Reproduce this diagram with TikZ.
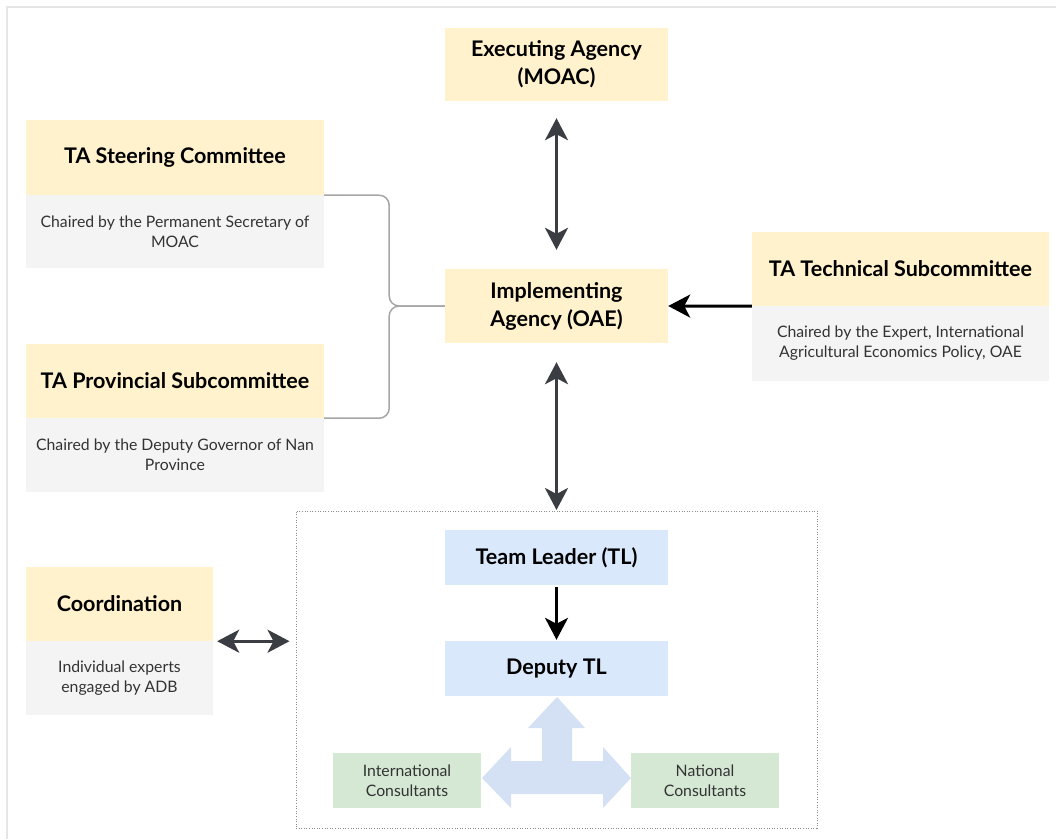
\documentclass[tikz,border=0pt]{standalone}
\usepackage{fontspec}
\setmainfont{Lato}
\usetikzlibrary{arrows.meta}
\definecolor{hdryellow}{HTML}{FFF2CC}
\definecolor{bodygray}{HTML}{F4F4F4}
\definecolor{tlblue}{HTML}{DAE8FC}
\definecolor{consgreen}{HTML}{D5E8D4}
\definecolor{blockblue}{HTML}{D4E1F5}
\definecolor{txtgray}{HTML}{333333}
\definecolor{arrowgray}{HTML}{3A3D42}
\definecolor{bracketgray}{HTML}{A6A6A6}
\definecolor{framegray}{HTML}{E6E6E6}
\definecolor{dotgray}{HTML}{8C8C8C}
\tikzset{
  hdr/.style={fill=hdryellow, draw=none, inner sep=0pt, align=center,
    font=\bfseries\fontsize{21.5}{28}\selectfont, text=black},
  bodybox/.style={fill=bodygray, draw=none, inner sep=0pt, align=center,
    font=\fontsize{15.8}{20}\selectfont, text=txtgray},
  bluebox/.style={fill=tlblue, draw=none, inner sep=0pt, align=center,
    minimum width=223pt, minimum height=55pt,
    font=\bfseries\fontsize{21.5}{28}\selectfont, text=black},
  greenbox/.style={fill=consgreen, draw=none, inner sep=0pt, align=center,
    minimum width=148pt, minimum height=55pt,
    font=\fontsize{15.8}{20.5}\selectfont, text=txtgray},
  dgarrow/.style={draw=arrowgray, line width=3pt,
    {Stealth[length=22pt,width=23pt,inset=6pt]}-{Stealth[length=22pt,width=23pt,inset=6pt]}},
  blkarrow/.style={draw=black, line width=3pt,
    -{Stealth[length=22pt,width=23pt,inset=6pt]}},
  bracket/.style={draw=bracketgray, line width=1.5pt, rounded corners=10pt},
}
\begin{document}
\begin{tikzpicture}[x=1pt,y=-1pt]
\useasboundingbox (0,0) rectangle (1056,839);
\fill[white] (0,0) rectangle (1056,839);
\draw[framegray, line width=2pt] (7,839) -- (7,7) -- (1056,7);

% top agencies
\node[hdr, minimum width=223pt, minimum height=73pt] (exec) at (556.5,64.5)
  {Executing Agency\\(MOAC)};
\node[hdr, minimum width=223pt, minimum height=74pt] (impl) at (556.5,306)
  {Implementing\\Agency (OAE)};

% steering committee
\node[hdr, minimum width=298pt, minimum height=75pt] (steerH) at (175,157.5)
  {TA Steering Committee};
\node[bodybox, minimum width=298pt, minimum height=73pt] (steerB) at (175,231.5)
  {Chaired by the Permanent Secretary of\\MOAC};

% provincial subcommittee
\node[hdr, minimum width=298pt, minimum height=74pt] (provH) at (175,381)
  {TA Provincial Subcommittee};
\node[bodybox, minimum width=298pt, minimum height=74pt] (provB) at (175,455)
  {Chaired by the Deputy Governor of Nan\\Province};

% technical subcommittee
\node[hdr, minimum width=297pt, minimum height=74pt] (techH) at (900.5,269)
  {TA Technical Subcommittee};
\node[bodybox, minimum width=297pt, minimum height=75pt] (techB) at (900.5,343.5)
  {Chaired by the Expert, International\\Agricultural Economics Policy, OAE};

% coordination
\node[hdr, minimum width=187pt, minimum height=74pt] (coordH) at (119.5,604)
  {Coordination};
\node[bodybox, minimum width=187pt, minimum height=74pt] (coordB) at (119.5,678)
  {Individual experts\\engaged by ADB};

% team frame
\node[draw=dotgray, line width=1pt, dash pattern=on 1pt off 1.6pt,
  minimum width=521pt, minimum height=317pt, inner sep=0pt] (team) at (556.5,669.5) {};
\node[bluebox] (tl) at (556.5,557.5) {Team Leader (TL)};
\node[bluebox] (dep) at (556.5,668.5) {Deputy TL};
\node[greenbox] (intl) at (407,780.5) {International\\Consultants};
\node[greenbox] (natl) at (705,780.5) {National\\Consultants};

% block arrow
\fill[blockblue] (557,697) -- (585,728) -- (572,728) -- (572,761) -- (603,761)
  -- (603,747) -- (631,778) -- (603,808) -- (603,794) -- (511,794) -- (511,808)
  -- (482,778) -- (511,747) -- (511,761) -- (542,761) -- (542,728) -- (528,728) -- cycle;

% connectors
\draw[dgarrow, shorten <=17pt, shorten >=19pt] (exec.south) -- (impl.north);
\draw[dgarrow, shorten <=19pt, shorten >=0.5pt] (impl.south) -- (team.north);
\draw[blkarrow] (techH.south west) -- (impl.east);
\draw[blkarrow, shorten <=2pt, shorten >=1pt] (tl.south) -- (dep.north);
\draw[dgarrow, shorten <=4pt, shorten >=6pt] (coordH.south east) -- (coordH.south east -| team.west);
\draw[bracket] (steerH.south east) -- ++(65,0) |- (impl.west);
\draw[bracket] (provH.south east) -- ++(65,0) |- (impl.west);
\end{tikzpicture}
\end{document}
